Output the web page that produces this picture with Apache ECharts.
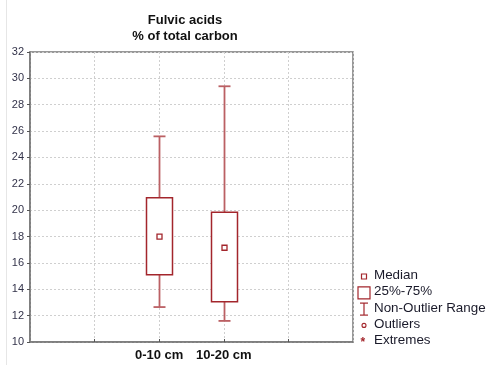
<!DOCTYPE html>
<html>
<head>
<meta charset="utf-8">
<script src="https://cdn.jsdelivr.net/npm/echarts@6/dist/echarts.min.js"></script>
<style>
  html, body { margin: 0; padding: 0; background: #fff; }
  #chart { width: 487px; height: 365px; }
</style>
</head>
<body>
<div id="chart"></div>
<script>
// box plot data: [min, q1, median, q3, max]
const categories = ['0-10 cm', '10-20 cm'];
const categoryPos = [2, 3];
const whiskerLow = [12.65, 11.6];
const q1 = [15.1, 13.05];
const median = [18.0, 17.15];
const q3 = [20.95, 19.85];
const whiskerHigh = [25.6, 29.4];
const legendLabels = ['Median', '25%-75%', 'Non-Outlier Range', 'Outliers', 'Extremes'];

const red = '#a3262c';
const whiskerColor = '#bb6064';
const font = '"Liberation Sans", Arial, sans-serif';

const chart = echarts.init(document.getElementById('chart'), null, { renderer: 'canvas' });

const boxData = categories.map((c, i) => [categoryPos[i], whiskerLow[i], q1[i], median[i], q3[i], whiskerHigh[i]]);

function renderBox(params, api) {
  const x = api.value(0);
  const pLow = api.coord([x, api.value(1)]);
  const pQ1 = api.coord([x, api.value(2)]);
  const pMed = api.coord([x, api.value(3)]);
  const pQ3 = api.coord([x, api.value(4)]);
  const pHigh = api.coord([x, api.value(5)]);
  const cx = Math.round(pMed[0]) + 0.5;
  const halfBox = 13;
  const halfCap = 6;
  const m = 2.5;
  const wStyle = { stroke: whiskerColor, lineWidth: 1.8 };
  return {
    type: 'group',
    children: [
      { type: 'line', shape: { x1: cx, y1: pHigh[1], x2: cx, y2: pQ3[1] }, style: wStyle },
      { type: 'line', shape: { x1: cx, y1: pQ1[1], x2: cx, y2: pLow[1] }, style: wStyle },
      { type: 'line', shape: { x1: cx - halfCap, y1: pHigh[1], x2: cx + halfCap, y2: pHigh[1] }, style: wStyle },
      { type: 'line', shape: { x1: cx - halfCap, y1: pLow[1], x2: cx + halfCap, y2: pLow[1] }, style: wStyle },
      {
        type: 'rect',
        shape: { x: cx - halfBox, y: pQ3[1], width: halfBox * 2, height: pQ1[1] - pQ3[1] },
        style: { fill: '#fff', stroke: red, lineWidth: 1.5 }
      },
      {
        type: 'rect',
        shape: { x: cx - m, y: pMed[1] - m, width: m * 2, height: m * 2 },
        style: { fill: '#fff', stroke: red, lineWidth: 1.3 }
      }
    ]
  };
}

// legend drawn as graphic elements
const lx = 364, ly0 = 276.5, lstep = 16.3;
const legendGraphics = [];
legendLabels.forEach((t, i) => {
  legendGraphics.push({
    type: 'text', left: 374, top: ly0 + i * lstep - 7.5,
    style: { text: t, font: '13.4px ' + font, fill: '#1a1a2a' }
  });
});
const iconY = (i) => ly0 + i * lstep;
legendGraphics.push(
  { type: 'rect', shape: { x: lx - 2.5, y: iconY(0) - 2.5, width: 5, height: 5 }, style: { fill: '#fff', stroke: red, lineWidth: 1.2 } },
  { type: 'rect', shape: { x: lx - 6, y: iconY(1) - 6, width: 12, height: 12 }, style: { fill: '#fff', stroke: red, lineWidth: 1.2 } },
  { type: 'line', shape: { x1: lx, y1: iconY(2) - 6, x2: lx, y2: iconY(2) + 6 }, style: { stroke: red, lineWidth: 1.2 } },
  { type: 'line', shape: { x1: lx - 4, y1: iconY(2) - 6, x2: lx + 4, y2: iconY(2) - 6 }, style: { stroke: red, lineWidth: 1.2 } },
  { type: 'line', shape: { x1: lx - 4, y1: iconY(2) + 6, x2: lx + 4, y2: iconY(2) + 6 }, style: { stroke: red, lineWidth: 1.2 } },
  { type: 'circle', shape: { cx: lx, cy: iconY(3), r: 2 }, style: { fill: '#fff', stroke: red, lineWidth: 1.1 } },
  {
    type: 'text', left: lx - 3.5, top: iconY(4) - 5,
    style: { text: '*', font: 'bold 12px ' + font, fill: red }
  },
  { type: 'line', shape: { x1: 6.5, y1: 0, x2: 6.5, y2: 365 }, style: { stroke: '#e6e6e6', lineWidth: 1 } }
);

chart.setOption({
  animation: false,
  backgroundColor: '#fff',
  title: {
    text: 'Fulvic acids\n% of total carbon',
    left: 180,
    textAlign: 'center',
    top: 7,
    textStyle: {
      fontFamily: font,
      fontSize: 13,
      fontWeight: 'bold',
      color: '#111',
      lineHeight: 16.5
    }
  },
  grid: {
    left: 30,
    right: 134,
    top: 52,
    bottom: 23,
    show: true,
    borderColor: '#777',
    borderWidth: 1.5,
    backgroundColor: 'transparent'
  },
  xAxis: {
    type: 'value',
    min: 0,
    max: 5,
    interval: 1,
    axisLine: { show: true, lineStyle: { color: '#777', width: 1.5 } },
    axisTick: { show: true, length: 3, inside: true, lineStyle: { color: '#555' } },
    axisLabel: {
      margin: 7,
      fontFamily: font,
      fontSize: 13,
      fontWeight: 'bold',
      color: '#111',
      showMinLabel: false,
      showMaxLabel: false,
      formatter: (v) => {
        const i = categoryPos.indexOf(v);
        return i >= 0 ? categories[i] : '';
      }
    },
    splitLine: { show: true, lineStyle: { color: '#cfcfcf', type: [2, 2], width: 1 } }
  },
  yAxis: {
    type: 'value',
    min: 10,
    max: 32,
    interval: 2,
    axisLine: { show: true, lineStyle: { color: '#777', width: 1.5 } },
    axisTick: { show: true, length: 3, lineStyle: { color: '#555' } },
    axisLabel: {
      margin: 6,
      fontFamily: font,
      fontSize: 11,
      color: '#33334a'
    },
    splitLine: { show: true, lineStyle: { color: '#cfcfcf', type: [2, 2], width: 1 } }
  },
  series: [{
    type: 'custom',
    renderItem: renderBox,
    encode: { x: 0, y: [1, 2, 3, 4, 5] },
    data: boxData,
    z: 5
  }],
  graphic: legendGraphics
});
</script>
</body>
</html>
